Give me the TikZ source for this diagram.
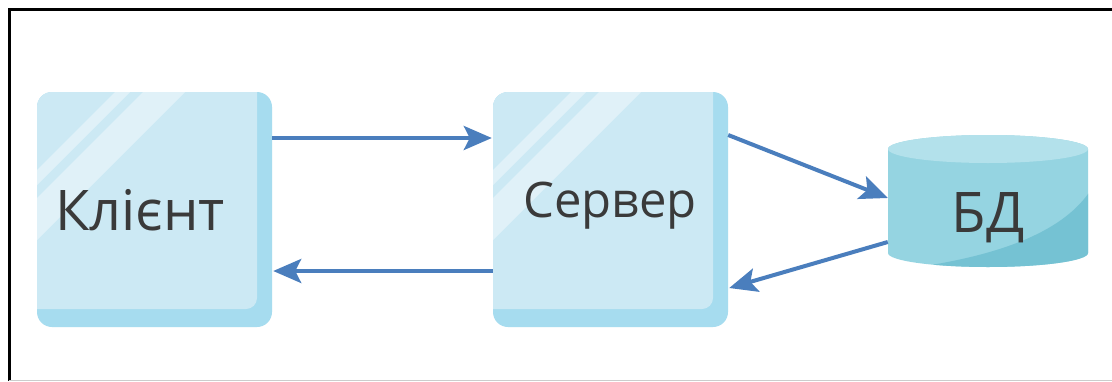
\documentclass[tikz,border=0pt]{standalone}
\usepackage{fontspec}
\setmainfont{Open Sans}
\usetikzlibrary{arrows.meta,calc}

\definecolor{faceblue}{HTML}{CCE9F4}
\definecolor{edgeblue}{HTML}{A6DCEF}
\definecolor{linkblue}{HTML}{4A7EBD}
\definecolor{dbtop}{HTML}{B3E1EB}
\definecolor{dbbody}{HTML}{95D4E1}
\definecolor{dbshade}{HTML}{75C2D3}
\definecolor{inkgray}{HTML}{3A3A3A}

\tikzset{
  box/.style={rectangle, minimum width=235pt, minimum height=235pt, inner sep=0pt},
  label/.style={inner sep=0pt, anchor=base, text=inkgray, font=\fontsize{52}{52}\selectfont},
  link/.style={draw=linkblue, line width=4pt,
    -{Stealth[length=28pt, width=24pt, inset=6pt]}},
}

% glass tile: back plate, front face and two diagonal glints
\newcommand{\glasstile}[2]{%
  \begin{scope}[shift={(#1,#2)}]
    \fill[edgeblue] [rounded corners=15pt] (0,0) rectangle (235,235);
    \begin{scope}
      \clip[rounded corners=15pt] (0,0) rectangle (235,235);
      \fill[faceblue, rounded corners=11pt] (-20,-20) -- (220,-20) -- (220,217) -- (-20,217) -- cycle;
      \clip[rounded corners=11pt] (-20,-20) -- (220,-20) -- (220,217) -- (-20,217) -- cycle;
      \fill[white, opacity=0.4] (78,0) -- (93,0) -- (-107,200) -- (-122,200) -- cycle;
      \fill[white, opacity=0.4] (106,0) -- (148,0) -- (-52,200) -- (-94,200) -- cycle;
    \end{scope}
  \end{scope}}

\begin{document}
\begin{tikzpicture}[x=1pt, y=-1pt]
  \useasboundingbox (0,0) rectangle (1112,381);
  \fill[white] (0,0) rectangle (1112,381);

  % frame
  \draw[black, line width=3pt] (9,381) -- (9,9) -- (1112,9);
  \draw[black!20, line width=1.5pt] (9,380.5) -- (1112,380.5);

  % tiles
  \glasstile{37}{92}
  \glasstile{493}{92}

  % database cylinder
  \begin{scope}
    \path[clip] (888,149) -- (888,253) arc[start angle=180, end angle=360, x radius=100, y radius=-14]
      -- (1088,149) arc[start angle=0, end angle=180, x radius=100, y radius=-14] -- cycle;
    \fill[dbbody] (880,120) rectangle (1100,280);
    \fill[dbshade] (1092,188) .. controls (1065,232) and (1000,254) .. (925,266) -- (1100,280) -- cycle;
    \fill[dbtop] (988,149) ellipse[x radius=100, y radius=14];
  \end{scope}

  % named shapes
  \node[box] (client) at (154.5,209.5) {};
  \node[box] (server) at (610.5,209.5) {};
  \node[rectangle, minimum width=200pt, minimum height=132pt, inner sep=0pt] (db) at (988,201) {};

  % labels
  \node[label, font=\fontsize{56}{56}\selectfont] (clientlabel) at (140,230) {Клієнт};
  \node[label, font=\fontsize{49}{49}\selectfont] (serverlabel) at (610,217) {Сервер};
  \node[label, font=\fontsize{56}{56}\selectfont] (dblabel) at (988,232) {БД};

  % connectors
  \draw[link] ([yshift=71.5pt]client.east) -- ([yshift=71.5pt,xshift=-1pt]server.west);
  \draw[link] ([yshift=-61.5pt]server.west) -- ([yshift=-61.5pt,xshift=1pt]client.east);
  \draw[link] ([yshift=74.5pt]server.east) -- ([yshift=3pt]db.west);
  \draw[link] ([yshift=-41pt]db.west) -- ([yshift=-78.5pt,xshift=1pt]server.east);
\end{tikzpicture}
\end{document}
